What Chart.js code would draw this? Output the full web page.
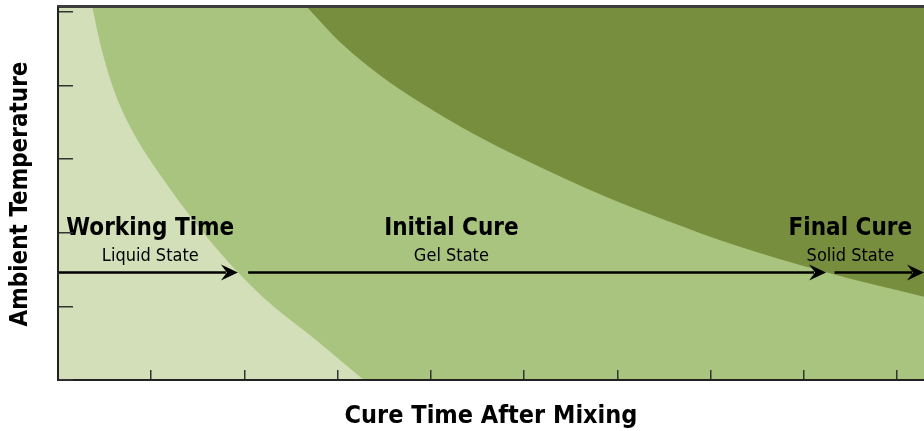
<!DOCTYPE html>
<html>
<head>
<meta charset="utf-8">
<script src="https://cdn.jsdelivr.net/npm/chart.js@4"></script>
<style>
  html, body { margin: 0; padding: 0; background: #fff; }
  #wrap { width: 924px; height: 431px; }
</style>
</head>
<body>
<div id="wrap"><canvas id="chart"></canvas></div>
<script>
// boundary between liquid and gel state (read top to bottom)
const gelX = [0.37, 0.47, 0.64, 0.85, 1.21, 1.56, 1.94, 2.32, 2.77, 3.28];
const gelY = [5.05, 4.48, 3.80, 3.26, 2.58, 2.00, 1.45, 0.99, 0.54, 0];
// boundary between gel and solid state
const solidX = [2.68, 3.03, 3.46, 3.92, 4.46, 4.99, 5.89, 6.54, 7.24, 8.25, 9.29];
const solidY = [5.05, 4.58, 4.13, 3.74, 3.34, 3.00, 2.48, 2.16, 1.84, 1.46, 1.13];
const xTicks = [0, 1, 2, 3, 4, 5, 6, 7, 8, 9];
const yTicks = [0, 1, 2, 3, 4, 5];

// arrows along the temperature line
const arrowY = 1.46;
const arrowFrom = [0, 2.04, 8.33];
const arrowTo = [1.93, 8.24, 9.29];

const stageNames = ['Working Time', 'Initial Cure', 'Final Cure'];
const stageStates = ['Liquid State', 'Gel State', 'Solid State'];
const stageX = [0.99, 4.22, 8.5];

const FONT = "'DejaVu Sans Condensed', 'DejaVu Sans', sans-serif";

const toPoints = (xs, ys) => xs.map((x, i) => ({ x, y: ys[i] }));

// mid green behind everything (gel region)
const bgPlugin = {
  id: 'bg',
  beforeDraw(chart) {
    const { ctx, chartArea: a } = chart;
    ctx.save();
    ctx.fillStyle = '#a9c47f';
    ctx.fillRect(a.left, a.top, a.right - a.left, a.bottom - a.top);
    ctx.restore();
  }
};

function arrowHead(ctx, x, y) {
  ctx.beginPath();
  ctx.moveTo(x, y);
  ctx.lineTo(x - 17, y - 8);
  ctx.lineTo(x - 11, y);
  ctx.lineTo(x - 17, y + 8);
  ctx.closePath();
  ctx.fill();
}

const notesPlugin = {
  id: 'notes',
  afterDatasetsDraw(chart) {
    const { ctx, chartArea: a } = chart;
    const xs = chart.scales.x, ys = chart.scales.y;
    ctx.save();
    // top frame line
    ctx.fillStyle = '#3d3d3d';
    ctx.fillRect(a.left - 1, a.top - 3, a.right - a.left + 1, 3);

    ctx.strokeStyle = '#000';
    ctx.fillStyle = '#000';
    ctx.lineWidth = 2.5;
    const py = ys.getPixelForValue(arrowY);
    arrowFrom.forEach((f, i) => {
      const x1 = xs.getPixelForValue(f), x2 = xs.getPixelForValue(arrowTo[i]);
      ctx.beginPath();
      ctx.moveTo(x1, py);
      ctx.lineTo(x2 - 12, py);
      ctx.stroke();
      arrowHead(ctx, x2, py);
    });

    ctx.textAlign = 'center';
    ctx.textBaseline = 'alphabetic';
    stageNames.forEach((name, i) => {
      const cx = xs.getPixelForValue(stageX[i]);
      ctx.font = 'bold 24px ' + FONT;
      ctx.fillText(name, cx, py - 37);
      ctx.font = '18px ' + FONT;
      ctx.fillText(stageStates[i], cx, py - 11);
    });
    ctx.restore();
  }
};

new Chart(document.getElementById('chart'), {
  type: 'line',
  data: {
    datasets: [
      {
        label: 'Final Cure',
        data: toPoints(solidX, solidY),
        backgroundColor: '#768e3e',
        borderWidth: 0,
        pointRadius: 0,
        fill: 'end',
        cubicInterpolationMode: 'monotone'
      },
      {
        label: 'Working Time',
        indexAxis: 'y',
        data: toPoints(gelX, gelY),
        backgroundColor: '#d3dfb9',
        borderWidth: 0,
        pointRadius: 0,
        fill: { value: 0 },
        cubicInterpolationMode: 'monotone'
      }
    ]
  },
  plugins: [bgPlugin, notesPlugin],
  options: {
    responsive: true,
    maintainAspectRatio: false,
    animation: false,
    layout: { padding: { left: 6, top: 8, right: 0, bottom: 0 } },
    plugins: { legend: { display: false }, tooltip: { enabled: false } },
    scales: {
      x: {
        type: 'linear',
        min: 0,
        max: 9.29,
        afterBuildTicks: s => { s.ticks = xTicks.map(v => ({ value: v })); },
        afterFit: s => { s.height = 51; },
        ticks: { display: false },
        grid: { drawOnChartArea: false, drawTicks: true, tickLength: -10, color: '#333', lineWidth: 1.5, z: 1 },
        border: { display: true, color: '#222', width: 2, z: 1 },
        title: {
          display: true,
          text: 'Cure Time After Mixing',
          font: { family: FONT, size: 25, weight: 'bold' },
          color: '#000',
          padding: 0
        }
      },
      y: {
        type: 'linear',
        min: 0,
        max: 5.05,
        afterBuildTicks: s => { s.ticks = yTicks.map(v => ({ value: v })); },
        afterFit: s => { s.width = 52; },
        ticks: { display: false },
        grid: { drawOnChartArea: false, drawTicks: true, tickLength: -15, color: '#333', lineWidth: 1.5, z: 1 },
        border: { display: true, color: '#222', width: 2, z: 1 },
        title: {
          display: true,
          text: 'Ambient Temperature',
          font: { family: FONT, size: 24, weight: 'bold' },
          color: '#000',
          padding: 0
        }
      }
    }
  }
});
</script>
</body>
</html>
